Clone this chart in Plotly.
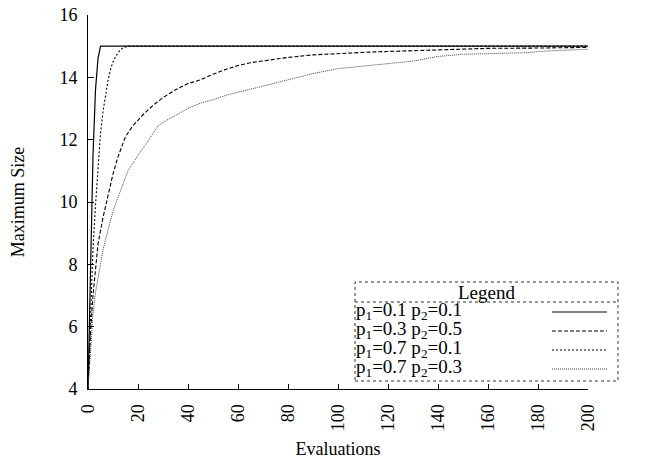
import plotly.graph_objects as go

# ---- data ----
series_names = ["p<sub>1</sub>=0.1 p<sub>2</sub>=0.1",
                "p<sub>1</sub>=0.3 p<sub>2</sub>=0.5",
                "p<sub>1</sub>=0.7 p<sub>2</sub>=0.1",
                "p<sub>1</sub>=0.7 p<sub>2</sub>=0.3"]

x_a = [0, 1, 2, 3, 4, 5, 200]
y_a = [4, 7.5, 11.5, 13.6, 14.6, 15, 15]

x_b = [0, 1, 2, 3, 4, 6, 8, 10, 12, 15, 18, 22, 26, 30, 35, 40, 45, 50, 55, 60,
       65, 70, 80, 90, 100, 110, 120, 140, 160, 180, 200]
y_b = [4, 5.8, 7.0, 7.9, 8.65, 9.5, 10.25, 10.9, 11.45, 12.1, 12.45, 12.8, 13.1,
       13.35, 13.6, 13.8, 13.92, 14.1, 14.25, 14.38, 14.47, 14.53, 14.64, 14.72,
       14.77, 14.8, 14.83, 14.88, 14.93, 14.94, 14.96]

x_c = [0, 1, 2, 3, 4, 5, 6, 7, 8, 9, 10, 12, 14, 16, 200]
y_c = [4, 6.3, 8.5, 9.9, 11.2, 12.2, 12.9, 13.45, 13.9, 14.25, 14.5, 14.8, 14.95,
       15, 15]

x_d = [0, 1, 2, 3, 4, 6, 8, 10, 12, 14, 16, 20, 24, 28, 32, 36, 40, 45, 50, 55,
       60, 65, 70, 77, 85, 90, 100, 110, 120, 130, 140, 150, 160, 175, 182, 190, 200]
y_d = [4, 5.3, 6.4, 7.1, 7.6, 8.46, 9.1, 9.7, 10.15, 10.6, 11.0, 11.5, 11.95,
       12.45, 12.65, 12.82, 13.0, 13.17, 13.28, 13.42, 13.52, 13.6, 13.72, 13.86,
       14.0, 14.12, 14.28, 14.37, 14.44, 14.52, 14.67, 14.74, 14.76, 14.79, 14.84,
       14.86, 14.9]

x_ticks = [0, 20, 40, 60, 80, 100, 120, 140, 160, 180, 200]
y_ticks = [4, 6, 8, 10, 12, 14, 16]

# ---- styles ----
FONT = "'Liberation Serif', 'Times New Roman', Times, serif"
styles = [dict(color="black", width=1.2, dash="solid"),
          dict(color="black", width=1.1, dash="4px,2px"),
          dict(color="black", width=1.1, dash="2px,2px"),
          dict(color="#444444", width=1.0, dash="1px,1px")]

fig = go.Figure()
for xs, ys, st, nm in zip([x_a, x_b, x_c, x_d], [y_a, y_b, y_c, y_d], styles, series_names):
    fig.add_trace(go.Scatter(x=xs, y=ys, mode="lines", line=st, name=nm,
                             showlegend=False))

# ---- hand-drawn legend box (paper coords) ----
L, R = 88, 588
T, B = 15, 389
def px(xp):
    return (xp - L) / (R - L)
def py(yp):
    return (B - yp) / (B - T)

box_x0, box_x1 = px(355), px(618)
box_y0, box_y1 = py(381), py(282)
sep_y = py(302)
shapes = [
    dict(type="rect", xref="paper", yref="paper", x0=box_x0, x1=box_x1, y0=box_y0,
         y1=box_y1, line=dict(color="#333", width=1, dash="dot")),
    dict(type="line", xref="paper", yref="paper", x0=box_x0, x1=box_x1, y0=sep_y,
         y1=sep_y, line=dict(color="#333", width=1, dash="dot")),
]
annotations = [dict(text="Legend", xref="paper", yref="paper", x=px(486), y=py(292),
                     xanchor="center", yanchor="middle", showarrow=False,
                     font=dict(family=FONT, size=19, color="black"))]
row_y = [311, 330, 349, 368]
for i, (nm, st) in enumerate(zip(series_names, styles)):
    annotations.append(dict(text=nm, xref="paper", yref="paper", x=px(354),
                            y=py(row_y[i]), xanchor="left", yanchor="middle",
                            showarrow=False,
                            font=dict(family=FONT, size=19, color="black")))
    shapes.append(dict(type="line", xref="paper", yref="paper", x0=px(552),
                       x1=px(607), y0=py(row_y[i] + 1), y1=py(row_y[i] + 1),
                       line=st))

fig.update_layout(
    width=647, height=460,
    margin=dict(l=L, r=647 - R, t=T, b=460 - B, autoexpand=False),
    paper_bgcolor="white", plot_bgcolor="white",
    font=dict(family=FONT, size=18, color="black"),
    shapes=shapes, annotations=annotations,
    showlegend=False,
)
fig.update_xaxes(range=[0, 200], tickvals=x_ticks, ticktext=[str(v) for v in x_ticks],
                 tickangle=-90, showgrid=False, zeroline=False, showline=True,
                 linecolor="black", linewidth=1, ticks="inside", ticklen=5,
                 tickcolor="black", tickfont=dict(family=FONT, size=18),
                 ticklabelstandoff=7, automargin=False,
                 title=dict(text="Evaluations", font=dict(family=FONT, size=18),
                            standoff=12))
fig.update_yaxes(range=[4, 16], tickvals=y_ticks, ticktext=[str(v) for v in y_ticks],
                 showgrid=False, zeroline=False, showline=True,
                 linecolor="black", linewidth=1, ticks="inside", ticklen=6,
                 tickcolor="black", tickfont=dict(family=FONT, size=18),
                 ticklabelstandoff=6, automargin=False,
                 title=dict(text="Maximum Size", font=dict(family=FONT, size=18),
                            standoff=30))

fig.write_html("out.html")
